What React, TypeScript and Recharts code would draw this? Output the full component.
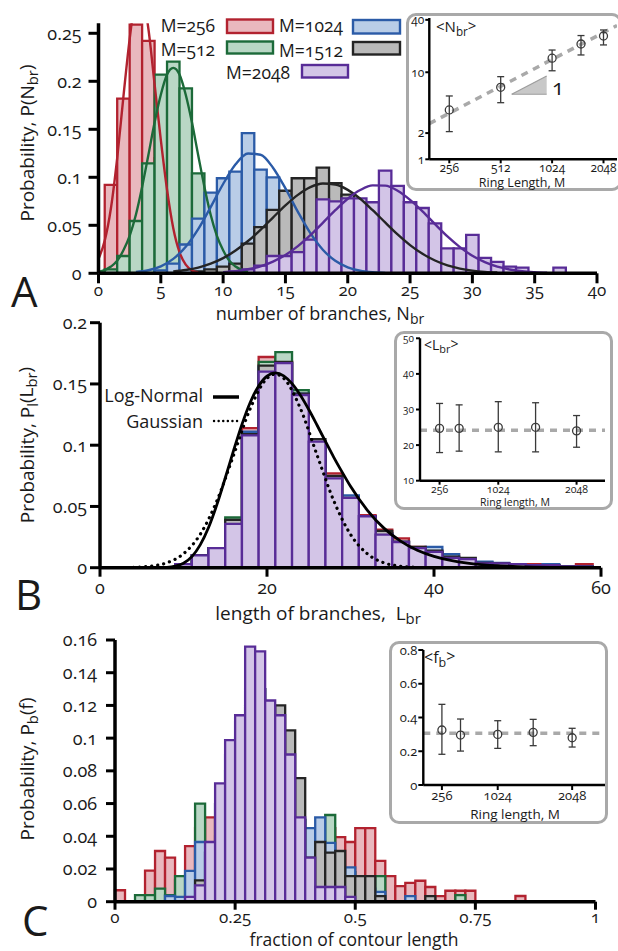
import React from 'react';
import { ComposedChart, Line, XAxis, YAxis, ReferenceArea, Scatter, ErrorBar, Area } from 'recharts';

const FONT = "'Open Sans', 'Noto Sans', 'DejaVu Sans', sans-serif";

// ---------------- series (ring lengths) ----------------
const SERIES_NAMES = ['M=256', 'M=512', 'M=1024', 'M=1512', 'M=2048'];
const STROKE = ['#b2222f', '#1c6a39', '#2b5ba7', '#242424', '#582c97'];
const FILL = ['#e9b8be', '#b9d7c5', '#b9cde7', '#bababa', '#d3c5e7'];

// ---------------- Panel A : number of branches ----------------
const A_BINS = [0, 1, 2, 3, 4, 5, 6, 7, 8, 9, 10, 11, 12, 13, 14, 15, 16, 17, 18, 19, 20, 21, 22, 23, 24, 25, 26, 27, 28, 29, 30, 31, 32, 33, 34, 35, 36, 37];
const A_P256 = [0, 0.092, 0.182, 0.259, 0.242, 0.12, 0.05, 0.015, 0.004, 0, 0, 0, 0, 0, 0, 0, 0, 0, 0, 0, 0, 0, 0, 0, 0, 0, 0, 0, 0, 0, 0, 0, 0, 0, 0, 0, 0, 0];
const A_P512 = [0, 0.004, 0.018, 0.0545, 0.1146, 0.207, 0.2205, 0.1927, 0.104, 0.05, 0.02, 0.006, 0.002, 0, 0, 0, 0, 0, 0, 0, 0, 0, 0, 0, 0, 0, 0, 0, 0, 0, 0, 0, 0, 0, 0, 0, 0, 0];
const A_P1024 = [0, 0, 0, 0, 0, 0.003, 0.01, 0.03, 0.057, 0.084, 0.099, 0.106, 0.146, 0.108, 0.1, 0.07, 0.045, 0.025, 0.012, 0.005, 0.002, 0, 0, 0, 0, 0, 0, 0, 0, 0, 0, 0, 0, 0, 0, 0, 0, 0];
const A_P1512 = [0, 0, 0, 0, 0, 0, 0, 0, 0.002, 0.004, 0.007, 0.01, 0.031, 0.048, 0.066, 0.086, 0.099, 0.099, 0.11, 0.094, 0.082, 0.07, 0.06, 0.05, 0.035, 0.028, 0.02, 0.012, 0.008, 0.004, 0.002, 0, 0, 0, 0, 0, 0, 0];
const A_P2048 = [0, 0, 0, 0, 0, 0, 0, 0, 0, 0, 0, 0.002, 0.004, 0.008, 0.018, 0.018, 0.022, 0.035, 0.077, 0.075, 0.078, 0.078, 0.074, 0.107, 0.091, 0.074, 0.068, 0.052, 0.026, 0.026, 0.04, 0.016, 0.012, 0.007, 0.006, 0, 0, 0.006];
const A_TICKS_X = [0, 5, 10, 15, 20, 25, 30, 35, 40];
const A_TICKS_Y = [0, 0.05, 0.1, 0.15, 0.2, 0.25];

// fitted curves
const A_FIT256_X = [0, 0.5, 1, 1.5, 2, 2.5, 3, 3.5, 4, 4.5, 5, 5.5, 6, 6.5, 7, 7.5, 8];
const A_FIT256_Y = [0.015, 0.034, 0.068, 0.12, 0.184, 0.244, 0.285, 0.289, 0.255, 0.197, 0.139, 0.087, 0.047, 0.022, 0.009, 0.003, 0.001];
const A_FIT512_X = [0, 0.5, 1, 1.5, 2, 2.5, 3, 3.5, 4, 4.5, 5, 5.5, 6, 6.5, 7, 7.5, 8, 8.5, 9, 9.5, 10, 10.5, 11, 11.5, 12];
const A_FIT512_Y = [0.0015, 0.0033, 0.007, 0.013, 0.024, 0.039, 0.061, 0.09, 0.123, 0.157, 0.186, 0.207, 0.214, 0.207, 0.186, 0.157, 0.123, 0.09, 0.061, 0.039, 0.024, 0.013, 0.007, 0.0033, 0.0015];
const A_FIT1024_X = [3, 4, 5, 6, 7, 8, 9, 10, 11, 12, 13, 14, 15, 16, 17, 18, 19, 20, 21, 22, 23];
const A_FIT1024_Y = [0.0013, 0.0032, 0.0073, 0.015, 0.0276, 0.046, 0.069, 0.093, 0.1135, 0.1248, 0.1235, 0.11, 0.0884, 0.064, 0.0418, 0.0246, 0.013, 0.0062, 0.0027, 0.0011, 0.0004];
const A_FIT1512_X = [6, 7, 8, 9, 10, 11, 12, 13, 14, 15, 16, 17, 18, 19, 20, 21, 22, 23, 24, 25, 26, 27, 28, 29, 30, 31, 32];
const A_FIT1512_Y = [0.0019, 0.0035, 0.006, 0.01, 0.0158, 0.0237, 0.0336, 0.0453, 0.0581, 0.0707, 0.0817, 0.0897, 0.0935, 0.0925, 0.0869, 0.0776, 0.0657, 0.053, 0.0405, 0.0294, 0.0203, 0.0133, 0.0082, 0.0049, 0.0028, 0.0015, 0.0008];
const A_FIT2048_X = [10, 11, 12, 13, 14, 15, 16, 17, 18, 19, 20, 21, 22, 23, 24, 25, 26, 27, 28, 29, 30, 31, 32, 33, 34, 35, 36];
const A_FIT2048_Y = [0.0011, 0.0023, 0.0042, 0.0073, 0.0122, 0.0191, 0.0283, 0.0397, 0.0526, 0.0657, 0.0777, 0.0867, 0.0916, 0.0913, 0.086, 0.0765, 0.0645, 0.0512, 0.0384, 0.0273, 0.0183, 0.0116, 0.0069, 0.004, 0.0021, 0.0011, 0.0005];

// ---------------- Panel B : length of branches ----------------
const B_BINS = [10, 12, 14, 16, 18, 20, 22, 24, 26, 28, 30, 32, 34, 36, 38, 40, 42, 44, 46, 48, 50, 52, 54, 56, 58];
const B_P256 = [0.003, 0.01, 0.016, 0.036, 0.114, 0.172, 0.168, 0.142, 0.103, 0.077, 0.057, 0.043, 0.031, 0.024, 0.017, 0.013, 0.011, 0.007, 0.004, 0.0035, 0.003, 0.003, 0.002, 0.001, 0.003];
const B_P512 = [0.003, 0.01, 0.016, 0.041, 0.11, 0.168, 0.176, 0.145, 0.103, 0.074, 0.057, 0.042, 0.028, 0.021, 0.016, 0.013, 0.009, 0.007, 0.004, 0.0035, 0.003, 0.002, 0.002, 0.001, 0.001];
const B_P1024 = [0.003, 0.01, 0.016, 0.035, 0.111, 0.164, 0.167, 0.142, 0.103, 0.074, 0.059, 0.042, 0.028, 0.021, 0.016, 0.017, 0.011, 0.007, 0.005, 0.004, 0.003, 0.002, 0.003, 0.001, 0.001];
const B_P1512 = [0.003, 0.01, 0.016, 0.039, 0.109, 0.165, 0.168, 0.142, 0.105, 0.075, 0.057, 0.042, 0.03, 0.021, 0.017, 0.014, 0.009, 0.008, 0.004, 0.0035, 0.003, 0.002, 0.002, 0.001, 0.001];
const B_P2048 = [0.003, 0.01, 0.016, 0.0357, 0.108, 0.16, 0.167, 0.141, 0.103, 0.073, 0.057, 0.042, 0.027, 0.021, 0.016, 0.013, 0.008, 0.007, 0.0035, 0.0035, 0.003, 0.002, 0.002, 0.001, 0.001];
const B_TICKS_X = [0, 20, 40, 60];
const B_TICKS_Y = [0, 0.05, 0.1, 0.15, 0.2];
const B_LOGN_X = [7, 8, 9, 10, 11, 12, 13, 14, 15, 16, 17, 18, 19, 20, 21, 22, 23, 24, 25, 26, 27, 28, 29, 30, 32, 34, 36, 38, 40, 42, 44, 46, 48, 50, 54, 60];
const B_LOGN_Y = [0.0001, 0.0003, 0.0012, 0.0036, 0.009, 0.0186, 0.0328, 0.0515, 0.0732, 0.0957, 0.117, 0.1351, 0.1484, 0.1564, 0.159, 0.1566, 0.1502, 0.1407, 0.1291, 0.1163, 0.1031, 0.0901, 0.078, 0.0664, 0.0471, 0.0323, 0.0217, 0.0142, 0.0092, 0.0059, 0.0037, 0.0023, 0.0015, 0.0009, 0.0003, 0.0001];
const B_GAUSS_X = [4, 6, 8, 10, 12, 14, 16, 18, 20, 21, 22, 24, 26, 28, 30, 32, 34, 36, 38];
const B_GAUSS_Y = [0.0003, 0.0012, 0.004, 0.0114, 0.0272, 0.0546, 0.0918, 0.13, 0.1546, 0.158, 0.1546, 0.13, 0.0918, 0.0546, 0.0272, 0.0114, 0.004, 0.0012, 0.0003];

// ---------------- Panel C : fraction of contour length ----------------
const C_BIN_WIDTH = 1 / 48;
const C_BIN_INDEX = [0, 1, 2, 3, 4, 5, 6, 7, 8, 9, 10, 11, 12, 13, 14, 15, 16, 17, 18, 19, 20, 21, 22, 23, 24, 25, 26, 27, 28, 29, 30, 31, 32, 33, 34, 35, 36, 37, 38, 39, 40];
const C_P256 = [0.007, 0, 0, 0.019, 0.031, 0.027, 0.013, 0.034, 0.045, 0.0516, 0.04, 0.045, 0.05, 0.06, 0.07, 0.06, 0.05, 0.045, 0.04, 0.038, 0.042, 0.045, 0.0395, 0.0365, 0.045, 0.045, 0.025, 0.0156, 0.0095, 0.0115, 0.0128, 0.009, 0.0034, 0.0067, 0.0067, 0.0067, 0, 0, 0, 0, 0.0035];
const C_P512 = [0, 0, 0.004, 0.004, 0.008, 0.004, 0.0156, 0.016, 0.06, 0.03, 0.06, 0.08, 0.1, 0.12, 0.12, 0.1, 0.08, 0.07, 0.05, 0.04, 0.045, 0.053, 0.02, 0.018, 0.012, 0.01, 0.0156, 0, 0, 0, 0, 0, 0, 0, 0.004, 0, 0, 0, 0, 0, 0];
const C_P1024 = [0, 0, 0, 0, 0, 0.0035, 0.003, 0.0188, 0.0365, 0.03, 0.06, 0.09, 0.11, 0.13, 0.13, 0.11, 0.09, 0.07, 0.05, 0.045, 0.0516, 0.036, 0.02, 0.021, 0.012, 0.008, 0.006, 0, 0, 0.0034, 0, 0, 0, 0, 0, 0, 0, 0, 0, 0, 0];
const C_P1512 = [0, 0, 0, 0, 0, 0, 0, 0, 0.013, 0.03, 0.05, 0.07, 0.09, 0.12, 0.13, 0.12, 0.12, 0.1047, 0.0755, 0.027, 0.0365, 0.03, 0.031, 0.0156, 0.0156, 0.0156, 0.0034, 0, 0, 0, 0, 0.0034, 0, 0, 0, 0, 0, 0, 0, 0, 0];
const C_P2048 = [0, 0, 0, 0, 0, 0, 0, 0.003, 0.01, 0.0365, 0.0723, 0.0988, 0.114, 0.156, 0.153, 0.123, 0.114, 0.09, 0.0516, 0.027, 0.009, 0.009, 0.009, 0.003, 0, 0, 0, 0, 0, 0, 0, 0, 0, 0, 0, 0, 0, 0, 0, 0, 0];
const C_TICKS_X = [0, 0.25, 0.5, 0.75, 1];
const C_TICKS_Y = [0, 0.02, 0.04, 0.06, 0.08, 0.1, 0.12, 0.14, 0.16];

// ---------------- Insets ----------------
const INS_M = [256, 512, 1024, 1512, 2048];
const NBR_MEAN = [3.69, 6.72, 14.5, 21.1, 26.1];
const NBR_LOW = [2.08, 4.47, 10.4, 15.8, 20.6];
const NBR_HIGH = [5.34, 8.9, 18.0, 26.4, 30.6];
const NBR_FIT_X = [195.5, 2457];
const NBR_FIT_Y = [2.57, 34.4];
const NBR_TRI_X = [594, 952];
const NBR_TRI_LOW = [5.59, 5.59];
const NBR_TRI_HIGH = [5.59, 9.06];
const NBR_TICKS_X = [256, 512, 1024, 2048];
const NBR_TICKS_Y = [1, 2, 10, 40];

const LBR_MEAN = [24.7, 24.7, 25.0, 25.0, 24.0];
const LBR_LOW = [17.9, 18.3, 18.1, 18.1, 19.4];
const LBR_HIGH = [31.7, 31.3, 32.2, 31.9, 28.3];
const LBR_FIT_X = [0, 2420];
const LBR_FIT_Y = [24.2, 24.2];
const LBR_TICKS_X = [256, 1024, 2048];
const LBR_TICKS_Y = [10, 20, 30, 40, 50];

const FB_MEAN = [0.326, 0.296, 0.3, 0.312, 0.28];
const FB_LOW = [0.182, 0.201, 0.217, 0.233, 0.225];
const FB_HIGH = [0.478, 0.391, 0.381, 0.389, 0.336];
const FB_FIT_X = [0, 2500];
const FB_FIT_Y = [0.307, 0.307];
const FB_TICKS_X = [256, 1024, 2048];
const FB_TICKS_Y = [0, 0.2, 0.4, 0.6, 0.8];

// ---------------- helpers ----------------
const zip = (xs: number[], ys: number[]) => xs.map((x, i) => ({ x, y: ys[i] }));
const withErr = (ms: number[], mean: number[], lo: number[], hi: number[]) =>
  ms.map((m, i) => ({ x: m, y: mean[i], err: [mean[i] - lo[i], hi[i] - mean[i]] }));

const AXIS = { stroke: '#000', strokeWidth: 3.5 };
const TICKL = { stroke: '#000', strokeWidth: 3 };
const TICK_TEXT = { fontSize: 18, fill: '#1a1a1a', fontFamily: FONT };
const TICK_TEXT_X = { fontSize: 17, fill: '#1a1a1a', fontFamily: FONT };
const IAXIS = { stroke: '#000', strokeWidth: 2.4 };
const ITICKL = { stroke: '#000', strokeWidth: 2 };

function histAreas(prefix: string, centers: number[], half: number, series: number[][]) {
  const out: any[] = [];
  series.forEach((vals, s) => {
    vals.forEach((v, i) => {
      if (v > 0) {
        out.push(
          <ReferenceArea
            key={`${prefix}-${s}-${i}`}
            x1={centers[i] - half}
            x2={centers[i] + half}
            y1={0}
            y2={v}
            fill={FILL[s]}
            fillOpacity={1}
            stroke={STROKE[s]}
            strokeWidth={2.3}
            ifOverflow="visible"
          />
        );
      }
    });
  });
  return out;
}

const OpenCircle = (p: any) => (
  <circle cx={p.cx} cy={p.cy} r={4} fill="none" stroke="#3a3a3a" strokeWidth={1.3} />
);

function fitLine(key: string, xs: number[], ys: number[], color: string, extra: any = {}) {
  return (
    <Line
      key={key}
      data={zip(xs, ys)}
      dataKey="y"
      type="monotone"
      stroke={color}
      strokeWidth={2.4}
      dot={false}
      activeDot={false}
      isAnimationActive={false}
      {...extra}
    />
  );
}

function PanelA() {
  return (
    <ComposedChart width={618} height={330} margin={{ top: 23.3, right: 21, bottom: 26.7, left: 38.5 }}>
      <XAxis type="number" dataKey="x" domain={[0, 40]} ticks={A_TICKS_X} allowDataOverflow interval={0}
        height={30} tickSize={10} tickMargin={1} axisLine={AXIS} tickLine={TICKL} tick={TICK_TEXT_X} />
      <YAxis type="number" domain={[0, 0.2604]} ticks={A_TICKS_Y} allowDataOverflow interval={0}
        width={60} tickSize={10} tickMargin={7} axisLine={AXIS} tickLine={TICKL} tick={TICK_TEXT} />
      {histAreas('a', A_BINS, 0.5, [A_P256, A_P512, A_P1024, A_P1512, A_P2048])}
      {fitLine('fa1', A_FIT256_X, A_FIT256_Y, STROKE[0])}
      {fitLine('fa2', A_FIT512_X, A_FIT512_Y, STROKE[1])}
      {fitLine('fa3', A_FIT1024_X, A_FIT1024_Y, STROKE[2])}
      {fitLine('fa4', A_FIT1512_X, A_FIT1512_Y, STROKE[3])}
      {fitLine('fa5', A_FIT2048_X, A_FIT2048_Y, STROKE[4])}
    </ComposedChart>
  );
}

function PanelB() {
  return (
    <ComposedChart width={618} height={320} margin={{ top: 22.7, right: 17, bottom: 22.3, left: 40 }}>
      <XAxis type="number" dataKey="x" domain={[0, 60]} ticks={B_TICKS_X} allowDataOverflow interval={0}
        height={30} tickSize={9} tickMargin={5} axisLine={AXIS} tickLine={TICKL} tick={TICK_TEXT} />
      <YAxis type="number" domain={[0, 0.2]} ticks={B_TICKS_Y} allowDataOverflow interval={0}
        width={60} tickSize={10} tickMargin={3} axisLine={AXIS} tickLine={TICKL} tick={TICK_TEXT} />
      {histAreas('b', B_BINS, 1, [B_P256, B_P512, B_P1024, B_P1512, B_P2048])}
      {fitLine('gauss', B_GAUSS_X, B_GAUSS_Y, '#000', { strokeWidth: 3.2, strokeDasharray: '0.1 6', strokeLinecap: 'round' })}
      {fitLine('logn', B_LOGN_X, B_LOGN_Y, '#000', { strokeWidth: 2.8 })}
    </ComposedChart>
  );
}

function PanelC() {
  const centers = C_BIN_INDEX.map((k) => (k + 0.5) * C_BIN_WIDTH);
  return (
    <ComposedChart width={618} height={331} margin={{ top: 20, right: 22.5, bottom: 19.3, left: 55 }}>
      <XAxis type="number" dataKey="x" domain={[0, 1]} ticks={C_TICKS_X} allowDataOverflow interval={0}
        height={30} tickSize={8} tickMargin={1} axisLine={AXIS} tickLine={TICKL} tick={TICK_TEXT_X} />
      <YAxis type="number" domain={[0, 0.16]} ticks={C_TICKS_Y} allowDataOverflow interval={0}
        width={60} tickSize={9} tickMargin={9} axisLine={AXIS} tickLine={TICKL} tick={TICK_TEXT} />
      {histAreas('c', centers, C_BIN_WIDTH / 2, [C_P256, C_P512, C_P1024, C_P1512, C_P2048])}
    </ComposedChart>
  );
}

function InsetA() {
  return (
    <ComposedChart width={240} height={200} margin={{ top: 18, right: 3, bottom: 15.7, left: 19.3 }}>
      <XAxis type="number" dataKey="x" scale="log" domain={[195.5, 2457]} ticks={NBR_TICKS_X} allowDataOverflow interval={0}
        height={25} tickSize={4} tickMargin={0} axisLine={IAXIS} tickLine={ITICKL}
        tick={{ fontSize: 12, fill: '#1a1a1a', fontFamily: FONT }} />
      <YAxis type="number" scale="log" domain={[1, 42]} ticks={NBR_TICKS_Y} allowDataOverflow interval={0}
        width={30} tickSize={4} tickMargin={1} axisLine={IAXIS} tickLine={ITICKL}
        tick={{ fontSize: 12, fill: '#1a1a1a', fontFamily: FONT }} />
      <Area
        data={NBR_TRI_X.map((x, i) => ({ x, r: [NBR_TRI_LOW[i], NBR_TRI_HIGH[i]] }))}
        dataKey="r" type="linear" fill="#c8c8c8" fillOpacity={1} stroke="#9c9c9c" strokeWidth={1.2}
        isAnimationActive={false} activeDot={false}
      />
      <Line data={zip(NBR_FIT_X, NBR_FIT_Y)} dataKey="y" type="linear" stroke="#a9a9a9" strokeWidth={3.5}
        strokeDasharray="7 6" dot={false} activeDot={false} isAnimationActive={false} />
      <Scatter data={withErr(INS_M, NBR_MEAN, NBR_LOW, NBR_HIGH)} dataKey="y" shape={OpenCircle} isAnimationActive={false}>
        <ErrorBar dataKey="err" direction="y" width={3.5} stroke="#3a3a3a" strokeWidth={1.3} isAnimationActive={false} />
      </Scatter>
    </ComposedChart>
  );
}

function InsetB() {
  return (
    <ComposedChart width={240} height={200} margin={{ top: 18.3, right: 15, bottom: 19.3, left: 15 }}>
      <XAxis type="number" dataKey="x" domain={[0, 2420]} ticks={LBR_TICKS_X} allowDataOverflow interval={0}
        height={20} tickSize={4} tickMargin={1} axisLine={IAXIS} tickLine={ITICKL}
        tick={{ fontSize: 10.5, fill: '#1a1a1a', fontFamily: FONT }} />
      <YAxis type="number" domain={[10, 50]} ticks={LBR_TICKS_Y} allowDataOverflow interval={0}
        width={25} tickSize={4} tickMargin={2} axisLine={IAXIS} tickLine={ITICKL}
        tick={{ fontSize: 10, fill: '#1a1a1a', fontFamily: FONT }} />
      <Line data={zip(LBR_FIT_X, LBR_FIT_Y)} dataKey="y" type="linear" stroke="#a9a9a9" strokeWidth={3.5}
        strokeDasharray="7 6" dot={false} activeDot={false} isAnimationActive={false} />
      <Scatter data={withErr(INS_M, LBR_MEAN, LBR_LOW, LBR_HIGH)} dataKey="y" shape={OpenCircle} isAnimationActive={false}>
        <ErrorBar dataKey="err" direction="y" width={3.5} stroke="#3a3a3a" strokeWidth={1.3} isAnimationActive={false} />
      </Scatter>
    </ComposedChart>
  );
}

function InsetC() {
  return (
    <ComposedChart width={240} height={200} margin={{ top: 20, right: 15, bottom: 23, left: 13.3 }}>
      <XAxis type="number" dataKey="x" domain={[0, 2500]} ticks={FB_TICKS_X} allowDataOverflow interval={0}
        height={22} tickSize={5} tickMargin={1} axisLine={IAXIS} tickLine={ITICKL}
        tick={{ fontSize: 13, fill: '#1a1a1a', fontFamily: FONT }} />
      <YAxis type="number" domain={[0, 0.8]} ticks={FB_TICKS_Y} allowDataOverflow interval={0}
        width={30} tickSize={5} tickMargin={1} axisLine={IAXIS} tickLine={ITICKL}
        tick={{ fontSize: 13, fill: '#1a1a1a', fontFamily: FONT }} />
      <Line data={zip(FB_FIT_X, FB_FIT_Y)} dataKey="y" type="linear" stroke="#a9a9a9" strokeWidth={3.5}
        strokeDasharray="7 6" dot={false} activeDot={false} isAnimationActive={false} />
      <Scatter data={withErr(INS_M, FB_MEAN, FB_LOW, FB_HIGH)} dataKey="y" shape={OpenCircle} isAnimationActive={false}>
        <ErrorBar dataKey="err" direction="y" width={3.5} stroke="#3a3a3a" strokeWidth={1.3} isAnimationActive={false} />
      </Scatter>
    </ComposedChart>
  );
}

const boxStyle = (left: number, top: number, width: number, height: number): React.CSSProperties => ({
  position: 'absolute', left, top, width, height, boxSizing: 'border-box',
  border: '3px solid #a9a9a9', borderRadius: 10, background: '#fff',
});

const abs = (left: number, top: number): React.CSSProperties => ({ position: 'absolute', left, top });

function Overlay() {
  const sub = { fontSize: '0.78em' } as any;
  return (
    <svg width={618} height={951} style={{ position: 'absolute', left: 0, top: 0, pointerEvents: 'none' }}
      fontFamily={FONT} fill="#1a1a1a">
      {/* Panel letters */}
      <text x={11} y={307} fontSize={42}>A</text>
      <text x={15} y={610} fontSize={42}>B</text>
      <text x={22} y={936} fontSize={42}>C</text>

      {/* Panel A legend */}
      <text x={215} y={32.3} fontSize={17.5} textAnchor="end">{SERIES_NAMES[0]}</text>
      <rect x={227} y={19.5} width={46} height={13.5} fill={FILL[0]} stroke={STROKE[0]} strokeWidth={2.4} />
      <text x={343} y={32.3} fontSize={17.5} textAnchor="end">{SERIES_NAMES[2]}</text>
      <rect x={353} y={20} width={47} height={13.5} fill={FILL[2]} stroke={STROKE[2]} strokeWidth={2.4} />
      <text x={215} y={55.5} fontSize={17.5} textAnchor="end">{SERIES_NAMES[1]}</text>
      <rect x={227} y={41.5} width={46} height={12} fill={FILL[1]} stroke={STROKE[1]} strokeWidth={2.4} />
      <text x={343} y={56.5} fontSize={17.5} textAnchor="end">{SERIES_NAMES[3]}</text>
      <rect x={353} y={42} width={47} height={12.5} fill={FILL[3]} stroke={STROKE[3]} strokeWidth={2.4} />
      <text x={290} y={78.5} fontSize={17.5} textAnchor="end">{SERIES_NAMES[4]}</text>
      <rect x={302} y={65} width={46} height={12.5} fill={FILL[4]} stroke={STROKE[4]} strokeWidth={2.4} />

      {/* Axis titles */}
      <text transform="translate(34,143) rotate(-90)" textAnchor="middle" fontSize={19}>
        Probability, P(N<tspan dy="0.3em" style={sub}>br</tspan><tspan dy="-0.3em">)</tspan>
      </text>
      <text x={320} y={320} textAnchor="middle" fontSize={18}>
        number of branches, N<tspan dy="0.3em" style={sub}>br</tspan>
      </text>
      <text transform="translate(34,445) rotate(-90)" textAnchor="middle" fontSize={19}>
        Probability, P<tspan dy="0.3em" style={sub}>l</tspan><tspan dy="-0.3em">(L</tspan><tspan dy="0.3em" style={sub}>br</tspan><tspan dy="-0.3em">)</tspan>
      </text>
      <text x={318} y={620} textAnchor="middle" fontSize={19}>
        {'length of branches,\u00a0\u00a0L'}<tspan dy="0.3em" style={sub}>br</tspan>
      </text>
      <text transform="translate(34,769) rotate(-90)" textAnchor="middle" fontSize={19}>
        Probability, P<tspan dy="0.3em" style={sub}>b</tspan><tspan dy="-0.3em">(f)</tspan>
      </text>
      <text x={354} y={945.5} textAnchor="middle" fontSize={17.5}>fraction of contour length</text>

      {/* Panel B legend */}
      <text x={203} y={402} fontSize={18} textAnchor="end">Log-Normal</text>
      <line x1={213} x2={239} y1={397} y2={397} stroke="#000" strokeWidth={3.5} />
      <text x={203} y={428} fontSize={18} textAnchor="end">Gaussian</text>
      <line x1={214} x2={240} y1={421} y2={421} stroke="#000" strokeWidth={2.4} strokeDasharray="0.1 4.5" strokeLinecap="round" />

      {/* Inset A labels */}
      <text x={436} y={32} fontSize={15}>&lt;N<tspan dy="0.3em" style={sub}>br</tspan><tspan dy="-0.3em">&gt;</tspan></text>
      <text x={552} y={95} fontSize={22}>1</text>
      <text x={522} y={187} fontSize={12.5} textAnchor="middle">Ring Length, M</text>

      {/* Inset B labels */}
      <text x={424} y={350} fontSize={14}>&lt;L<tspan dy="0.3em" style={sub}>br</tspan><tspan dy="-0.3em">&gt;</tspan></text>
      <text x={515} y={505.5} fontSize={10.5} textAnchor="middle">Ring length, M</text>

      {/* Inset C labels */}
      <text x={424} y={663} fontSize={16}>&lt;f<tspan dy="0.3em" style={sub}>b</tspan><tspan dy="-0.3em">&gt;</tspan></text>
      <text x={515} y={819} fontSize={13.5} textAnchor="middle">Ring length, M</text>
    </svg>
  );
}

export default function App() {
  return (
    <div style={{ position: 'absolute', left: 0, top: 0, width: 618, height: 951, overflow: 'hidden', background: '#fff', fontFamily: FONT, fontVariantNumeric: 'oldstyle-nums' }}>
      <div style={abs(0, 0)}><PanelA /></div>
      <div style={abs(0, 300)}><PanelB /></div>
      <div style={abs(0, 620)}><PanelC /></div>

      <div style={boxStyle(406, 13, 216, 178)} />
      <div style={abs(380, 0)}><InsetA /></div>

      <div style={boxStyle(394, 331, 219, 179)} />
      <div style={abs(380, 320)}><InsetB /></div>

      <div style={boxStyle(389, 641, 219, 183)} />
      <div style={abs(380, 630)}><InsetC /></div>

      <Overlay />
    </div>
  );
}
